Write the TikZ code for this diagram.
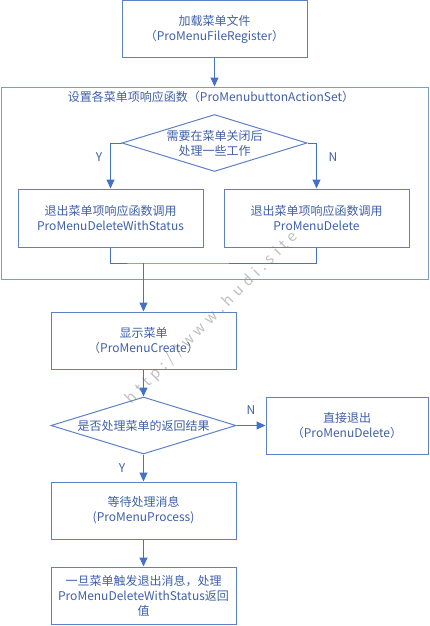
\documentclass[tikz,border=0pt]{standalone}
\usepackage{fontspec}
\setmainfont{Noto Sans CJK SC}
\newfontfamily\wmfont[LetterSpace=32]{Noto Sans CJK SC}
\usetikzlibrary{arrows.meta,shapes.geometric}
\definecolor{lineblue}{HTML}{4472C4}
\definecolor{boxblue}{HTML}{5E80C6}
\definecolor{txtblue}{HTML}{3F5FA8}
\tikzset{
  every node/.style={font=\fontsize{12}{15}\selectfont, text=txtblue},
  box/.style={draw=boxblue, line width=1pt, minimum width=185pt, minimum height=57pt, inner sep=0pt, align=center},
  dia/.style={draw=boxblue, line width=1pt, diamond, minimum width=185pt, minimum height=57pt, inner sep=0pt},
  txt/.style={align=center, inner sep=0pt},
  conn/.style={draw=lineblue, line width=1pt},
  arr/.style={conn, -{Triangle[width=8pt,length=9pt]}},
  yn/.style={inner sep=0pt}
}
\begin{document}
\begin{tikzpicture}[x=1pt,y=-1pt]
\useasboundingbox (0,0) rectangle (430,626);
% watermark
\node[text=black!25, font=\wmfont\fontsize{15}{15}\selectfont, rotate=45, inner sep=0pt] (wm) at (212,318) {http://www.hudi.site};
% top box
\node[box] (load) at (214.5,29.5) {加载菜单文件\\（ProMenuFileRegister）};
% container
\node[draw=boxblue!80, line width=1pt, minimum width=427pt, minimum height=192pt, inner sep=0pt] (cont) at (214.5,183) {};
\node[txt] (conttitle) at (211,97) {设置各菜单项响应函数（ProMenubuttonActionSet）};
\draw[arr] (load.south) -- (cont.north -| load.south);
% diamond 1
\node[dia] (d1) at (214.5,143) {};
\node[txt] (d1t) at (d1.center) {需要在菜单关闭后\\处理一些工作};
\node[box, minimum height=58pt] (bl) at (110.5,218) {退出菜单项响应函数调用\\ProMenuDeleteWithStatus};
\node[box, minimum height=58pt] (br) at (316.5,218) {退出菜单项响应函数调用\\ProMenuDelete};
\draw[arr] (d1.west) -| (bl.north);
\draw[arr] (d1.east) -| (br.north);
\node[yn] (ylab1) at (99,157) {Y};
\node[yn] (nlab1) at (333,157) {N};
\coordinate (j) at (143.5,263);
\draw[conn] (bl.south) |- (j) -| (br.south);
% show menu
\node[box] (show) at (143.5,340.5) {显示菜单\\（ProMenuCreate）};
\draw[arr] (j) -- (show.north);
% diamond 2
\node[dia] (d2) at (143.5,425.5) {};
\node[txt] (d2t) at (d2.center) {是否处理菜单的返回结果};
\draw[arr] (show.south) -- (d2.north);
\node[box, minimum width=162pt] (quit) at (347,425.5) {直接退出\\（ProMenuDelete）};
\draw[arr] (d2.east) -- (quit.west);
\node[yn] (nlab2) at (251,410) {N};
\node[box] (wait) at (143.5,510.5) {等待处理消息\\(ProMenuProcess)};
\draw[arr] (d2.south) -- (wait.north);
\node[yn] (ylab2) at (122,468) {Y};
\node[box] (last) at (143.5,595.5) {一旦菜单触发退出消息，处理\\ProMenuDeleteWithStatus返回\\值};
\draw[arr] (wait.south) -- (last.north);
\end{tikzpicture}
\end{document}
